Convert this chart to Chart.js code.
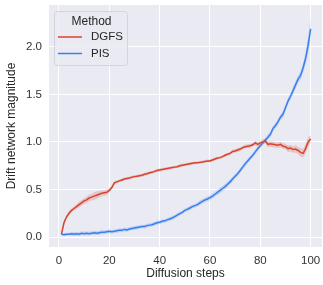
<!DOCTYPE html>
<html>
<head>
<meta charset="utf-8">
<script src="https://cdn.jsdelivr.net/npm/chart.js@4"></script>
<style>
  html, body { margin: 0; padding: 0; background: #fff; }
  #wrap { width: 323px; height: 285px; }
</style>
</head>
<body>
<div id="wrap"><canvas id="myChart" width="323" height="285"></canvas></div>
<script>
//data
const steps = [];
for (let i = 1; i <= 100; i++) steps.push(i);

const dgfs = [0.03,0.15,0.21,0.25,0.28,0.30,0.32,0.34,0.36,0.38,
  0.39,0.41,0.42,0.43,0.44,0.45,0.46,0.465,0.47,0.49,
  0.52,0.57,0.58,0.59,0.60,0.61,0.615,0.62,0.63,0.635,
  0.64,0.645,0.65,0.66,0.665,0.675,0.68,0.69,0.70,0.705,
  0.71,0.715,0.72,0.725,0.73,0.735,0.74,0.75,0.755,0.76,
  0.765,0.77,0.775,0.78,0.78,0.785,0.79,0.795,0.80,0.80,
  0.81,0.82,0.83,0.835,0.845,0.86,0.87,0.88,0.90,0.905,
  0.915,0.925,0.94,0.95,0.955,0.96,0.97,0.99,0.975,0.99,
  1.0,1.01,0.975,0.98,0.975,0.97,0.965,0.975,0.955,0.95,
  0.93,0.935,0.92,0.925,0.91,0.89,0.88,0.93,1.0,1.03];
const dgfsSpread = [0.01,0.02,0.02,0.02,0.02,0.02,0.025,0.03,0.03,0.03,
  0.035,0.035,0.035,0.04,0.04,0.035,0.03,0.03,0.03,0.02,
  0.02,0.02,0.015,0.015,0.015,0.015,0.015,0.015,0.015,0.015,
  0.015,0.015,0.015,0.015,0.015,0.015,0.015,0.015,0.015,0.015,
  0.015,0.015,0.015,0.015,0.015,0.015,0.015,0.015,0.015,0.015,
  0.015,0.015,0.015,0.015,0.015,0.015,0.015,0.015,0.015,0.015,
  0.015,0.015,0.015,0.015,0.015,0.015,0.015,0.015,0.02,0.02,
  0.02,0.02,0.02,0.02,0.02,0.02,0.02,0.025,0.025,0.025,
  0.025,0.025,0.03,0.03,0.03,0.03,0.03,0.03,0.03,0.03,
  0.035,0.035,0.035,0.04,0.04,0.045,0.045,0.05,0.05,0.04];

const pis = [0.03,0.025,0.03,0.03,0.035,0.03,0.035,0.03,0.04,0.035,
  0.04,0.035,0.04,0.045,0.04,0.045,0.05,0.05,0.055,0.06,
  0.055,0.06,0.065,0.07,0.07,0.08,0.075,0.085,0.09,0.095,
  0.10,0.105,0.11,0.11,0.12,0.125,0.13,0.14,0.15,0.155,
  0.165,0.17,0.18,0.19,0.20,0.215,0.23,0.245,0.26,0.28,
  0.29,0.305,0.32,0.33,0.34,0.36,0.375,0.39,0.40,0.415,
  0.43,0.45,0.47,0.49,0.51,0.53,0.555,0.58,0.61,0.64,
  0.665,0.70,0.735,0.77,0.80,0.83,0.86,0.895,0.93,0.96,
  0.99,1.02,1.05,1.08,1.14,1.17,1.21,1.26,1.29,1.36,
  1.43,1.48,1.54,1.60,1.66,1.70,1.78,1.88,2.02,2.19];
const pisSpread = [0.01,0.015,0.015,0.015,0.02,0.02,0.02,0.02,0.02,0.02,
  0.02,0.02,0.02,0.02,0.02,0.02,0.02,0.02,0.02,0.02,
  0.02,0.02,0.02,0.02,0.02,0.02,0.02,0.02,0.02,0.02,
  0.02,0.02,0.02,0.02,0.02,0.02,0.02,0.02,0.02,0.02,
  0.02,0.02,0.02,0.02,0.02,0.02,0.02,0.02,0.02,0.02,
  0.02,0.02,0.02,0.02,0.02,0.025,0.025,0.025,0.025,0.025,
  0.025,0.025,0.03,0.03,0.03,0.03,0.03,0.025,0.025,0.025,
  0.025,0.025,0.025,0.025,0.025,0.025,0.025,0.025,0.025,0.025,
  0.025,0.025,0.03,0.03,0.03,0.03,0.03,0.03,0.035,0.035,
  0.035,0.035,0.04,0.04,0.04,0.045,0.05,0.06,0.09,0.12];

const xTicks = [0, 20, 40, 60, 80, 100];
const yTicks = [0.0, 0.5, 1.0, 1.5, 2.0];
const yTickLabels = ["0.0", "0.5", "1.0", "1.5", "2.0"];

const redColor = "#d8432f";
const blueColor = "#3a80ee";
const font = "Liberation Sans, Arial, sans-serif";

//build points
const pts = (ys) => steps.map((x, i) => ({ x: x, y: ys[i] }));
const band = (ys, sp, sign) => steps.map((x, i) => ({ x: x, y: ys[i] + sign * sp[i] }));

//background plugin (seaborn darkgrid look)
const bgPlugin = {
  id: "bg",
  beforeDraw(chart) {
    const { ctx, chartArea: a } = chart;
    ctx.save();
    ctx.fillStyle = "#eaeaf2";
    ctx.fillRect(a.left, a.top, a.right - a.left, a.bottom - a.top);
    ctx.restore();
  },
};

//legend box drawn inside the plot
const legendPlugin = {
  id: "boxLegend",
  afterDatasetsDraw(chart) {
    const { ctx, chartArea: a } = chart;
    const x0 = a.left + 5, y0 = a.top + 6, w = 73, h = 54;
    ctx.save();
    ctx.fillStyle = "rgba(234,234,242,0.8)";
    ctx.strokeStyle = "#d4d4dc";
    ctx.lineWidth = 1;
    ctx.beginPath();
    ctx.roundRect(x0 + 0.5, y0 + 0.5, w, h, 3);
    ctx.fill();
    ctx.stroke();
    ctx.fillStyle = "#262626";
    ctx.font = "12px " + font;
    ctx.textAlign = "center";
    ctx.textBaseline = "middle";
    ctx.fillText("Method", x0 + w / 2 + 1, y0 + 11);
    const items = [["DGFS", redColor], ["PIS", blueColor]];
    ctx.textAlign = "left";
    ctx.font = "11.5px " + font;
    items.forEach((it, i) => {
      const yy = y0 + 26 + i * 16.5;
      ctx.strokeStyle = it[1];
      ctx.lineWidth = 1.5;
      ctx.beginPath();
      ctx.moveTo(x0 + 4, yy);
      ctx.lineTo(x0 + 28, yy);
      ctx.stroke();
      ctx.fillStyle = "#262626";
      ctx.fillText(it[0], x0 + 37, yy);
    });
    ctx.restore();
  },
};

const data = {
  datasets: [
    { data: band(dgfs, dgfsSpread, -1), borderWidth: 0, pointRadius: 0, fill: false },
    { data: band(dgfs, dgfsSpread, 1), borderWidth: 0, pointRadius: 0, fill: "-1", backgroundColor: "rgba(216,67,47,0.22)" },
    { data: band(pis, pisSpread, -1), borderWidth: 0, pointRadius: 0, fill: false },
    { data: band(pis, pisSpread, 1), borderWidth: 0, pointRadius: 0, fill: "-1", backgroundColor: "rgba(58,128,238,0.22)" },
    { label: "DGFS", data: pts(dgfs), borderColor: redColor, borderWidth: 1.5, pointRadius: 0, fill: false },
    { label: "PIS", data: pts(pis), borderColor: blueColor, borderWidth: 1.5, pointRadius: 0, fill: false },
  ],
};

const config = {
  type: "line",
  data,
  options: {
    responsive: false,
    animation: false,
    layout: { padding: { top: 5, right: 1, left: 0, bottom: 0 } },
    plugins: { legend: { display: false }, tooltip: { enabled: false } },
    scales: {
      x: {
        type: "linear",
        min: -3.95,
        max: 104.5,
        afterBuildTicks: (s) => { s.ticks = xTicks.map((v) => ({ value: v })); },
        afterFit: (s) => { s.height = 38; s.paddingLeft = 0; s.paddingRight = 0; },
        grid: { color: "#ffffff", lineWidth: 1, drawTicks: false },
        border: { display: false },
        ticks: { color: "#333", font: { family: font, size: 11.5 }, padding: 7, maxRotation: 0 },
        title: { display: true, text: "Diffusion steps", color: "#262626", font: { family: font, size: 12 }, padding: { top: 0 } },
      },
      y: {
        min: -0.105,
        max: 2.44,
        afterBuildTicks: (s) => { s.ticks = yTicks.map((v) => ({ value: v })); },
        afterFit: (s) => { s.width = 49; s.paddingTop = 0; s.paddingBottom = 0; },
        grid: { color: "#ffffff", lineWidth: 1, drawTicks: false },
        border: { display: false },
        ticks: {
          color: "#333",
          font: { family: font, size: 11.5 },
          padding: 7,
          callback: (v) => { const i = yTicks.indexOf(v); return i >= 0 ? yTickLabels[i] : ""; },
        },
        title: { display: true, text: "Drift network magnitude", color: "#262626", font: { family: font, size: 12 }, padding: { bottom: 2 } },
      },
    },
  },
  plugins: [bgPlugin, legendPlugin],
};

const myChart = new Chart(document.getElementById("myChart"), config);
</script>
</body>
</html>
